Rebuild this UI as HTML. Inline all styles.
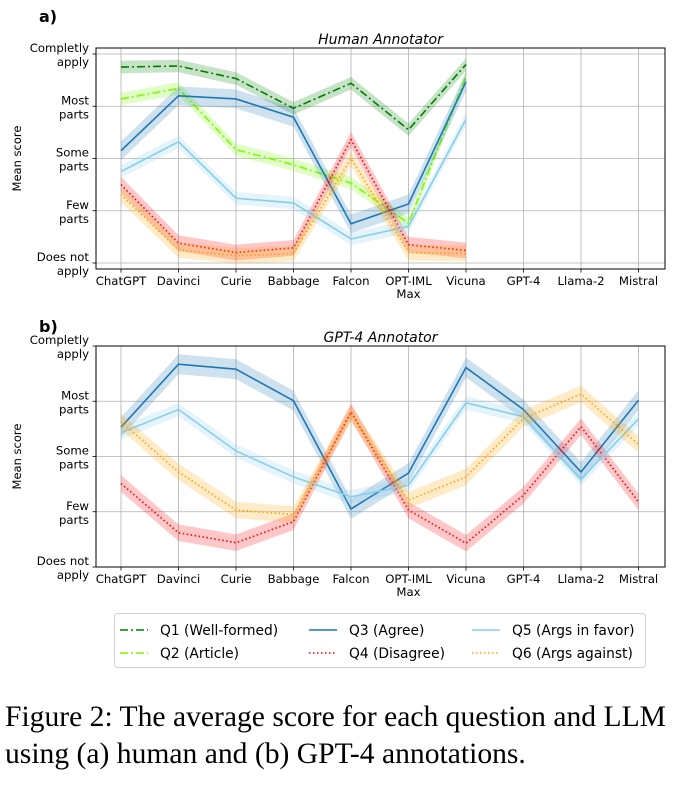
<!DOCTYPE html>
<html><head><meta charset="utf-8"><style>
html,body{margin:0;padding:0;background:#fff;width:680px;height:790px;overflow:hidden}
svg text{font-family:"DejaVu Sans","Liberation Sans",sans-serif}
.cap{position:absolute;left:5px;font-family:"Liberation Serif",serif;font-size:29.6px;color:#000;white-space:nowrap}
</style></head><body>
<svg id="fig" width="680" height="690" style="position:absolute;left:0;top:0"></svg>
<div class="cap" style="top:701px">Figure 2: The average score for each question and LLM</div>
<div class="cap" style="top:738px">using (a) human and (b) GPT-4 annotations.</div>
<script>
const categories=["ChatGPT","Davinci","Curie","Babbage","Falcon","OPT-IML","Vicuna","GPT-4","Llama-2","Mistral"];
const yTickLabels=[["Does not","apply"],["Few","parts"],["Some","parts"],["Most","parts"],["Completly","apply"]];
const seriesNames=["Q1 (Well-formed)","Q2 (Article)","Q3 (Agree)","Q4 (Disagree)","Q5 (Args in favor)","Q6 (Args against)"];
const humanQ1=[4.75,4.77,4.53,3.96,4.44,3.55,4.8];
const humanQ2=[4.14,4.34,3.17,2.88,2.53,1.76,4.57];
const humanQ3=[3.15,4.2,4.14,3.79,1.75,2.13,4.47];
const humanQ4=[2.5,1.38,1.2,1.29,3.36,1.35,1.24];
const humanQ5=[2.75,3.32,2.24,2.15,1.46,1.7,3.75];
const humanQ6=[2.31,1.25,1.14,1.18,3.0,1.2,1.18];
const gptQ3=[3.53,4.67,4.58,4.01,2.05,2.7,4.61,3.85,2.72,4.02];
const gptQ4=[2.51,1.62,1.44,1.82,3.81,2.03,1.43,2.3,3.54,2.18];
const gptQ5=[3.43,3.85,3.1,2.63,2.27,2.48,3.97,3.72,2.59,3.68];
const gptQ6=[3.63,2.72,2.03,1.95,3.78,2.21,2.63,3.69,4.13,3.22];
const ciHalf=[0.12,0.12,0.18,0.15,0.12,0.15];

const NS="http://www.w3.org/2000/svg";
const svg=document.getElementById('fig');
function mk(tag,attrs,parent){const e=document.createElementNS(NS,tag);for(const k in attrs)e.setAttribute(k,attrs[k]);(parent||svg).appendChild(e);return e;}
const styles=[
 {c:"#008000",d:"8,3,2,3"},{c:"#7CFC00",d:"8,3,2,3"},{c:"#1f77b4",d:""},
 {c:"#ff0000",d:"1.5,2.5"},{c:"#87CEEB",d:""},{c:"#FFA500",d:"1.5,2.5"}];
const X0=96,X1=665;
const xs=i=>121+57.5*i;

function panel(p){
 const ys=v=>p.y1-(v-1)*(p.y1-p.y5)/4;
 const g=mk('g',{});
 
 
 categories.forEach((c,i)=>{
  const l=mk('line',{x1:xs(i),x2:xs(i),y1:p.top,y2:p.bot,stroke:"#b0b0b0","stroke-width":0.8},g);
  
  mk('line',{x1:xs(i),x2:xs(i),y1:p.bot,y2:p.bot+3.5,stroke:"#000","stroke-width":0.8},g);
  const parts=c==="OPT-IML"?["OPT-IML","Max"]:[c];
  parts.forEach((t,k)=>{const tx=mk('text',{x:xs(i),y:p.bot+16+k*13,"text-anchor":"middle","font-size":11.7,fill:"#000"},g);tx.textContent=t;
   });
 });
 yTickLabels.forEach((lab,k)=>{
  const y=ys(k+1);
  const l=mk('line',{x1:X0,x2:X1,y1:y,y2:y,stroke:"#b0b0b0","stroke-width":0.8},g);
  
  mk('line',{x1:X0-3.5,x2:X0,y1:y,y2:y,stroke:"#000","stroke-width":0.8},g);
  lab.forEach((t,j)=>{const tx=mk('text',{x:X0-7,y:y-2+j*14,"text-anchor":"end","font-size":11.7,fill:"#000"},g);tx.textContent=t;
   });
 });
 p.series.forEach((s,si)=>{
  if(!s)return;
  const st=styles[si],h=ciHalf[si];
  let up=s.map((v,i)=>xs(i)+","+ys(v+h)).join(" ");
  let dn=s.map((v,i)=>xs(i)+","+ys(v-h)).reverse().join(" ");
  const band=mk('polygon',{points:up+" "+dn,fill:st.c,"fill-opacity":0.22,stroke:"none"},g);
  
  const ln=mk('polyline',{points:s.map((v,i)=>xs(i)+","+ys(v)).join(" "),fill:"none",stroke:st.c,"stroke-width":1.6,"stroke-dasharray":st.d},g);
  
 });
 const fr=mk('rect',{x:X0,y:p.top,width:X1-X0,height:p.bot-p.top,fill:"none",stroke:"#000","stroke-width":1},g);
 
 const ti=mk('text',{x:(X0+X1)/2,y:p.top-4,"text-anchor":"middle","font-size":14,"font-style":"italic"},g);ti.textContent=p.title;
 
 const yl=mk('text',{x:0,y:0,"text-anchor":"middle","font-size":11.5,transform:`translate(21,${(p.top+p.bot)/2}) rotate(-90)`},g);yl.textContent="Mean score";
 
 const pl=mk('text',{x:39,y:p.lab,"font-size":16,"font-weight":"bold"},g);pl.textContent=p.letter;
 
}
panel({name:"panel-a-human",title:"Human Annotator",letter:"a)",top:48,bot:269,y5:54,y1:263,lab:22,
 series:[humanQ1,humanQ2,humanQ3,humanQ4,humanQ5,humanQ6]});
panel({name:"panel-b-gpt4",title:"GPT-4 Annotator",letter:"b)",top:346,bot:567,y5:346,y1:567,lab:332,
 series:[null,null,gptQ3,gptQ4,gptQ5,gptQ6]});
const lg=mk('g',{});

mk('rect',{x:114.5,y:613.5,width:531,height:54,rx:3,fill:"#fff",stroke:"#d0d0d0"},lg);
const cols=[120,309,472];
seriesNames.forEach((n,i)=>{
 const cx=cols[Math.floor(i/2)],cy=630+(i%2)*23;
 const st=styles[i];
 mk('line',{x1:cx,x2:cx+28,y1:cy,y2:cy,stroke:st.c,"stroke-width":1.6,"stroke-dasharray":st.d},lg);
 const t=mk('text',{x:cx+40,y:cy+5,"font-size":13.8},lg);t.textContent=n;
 
});
</script>
</body></html>
